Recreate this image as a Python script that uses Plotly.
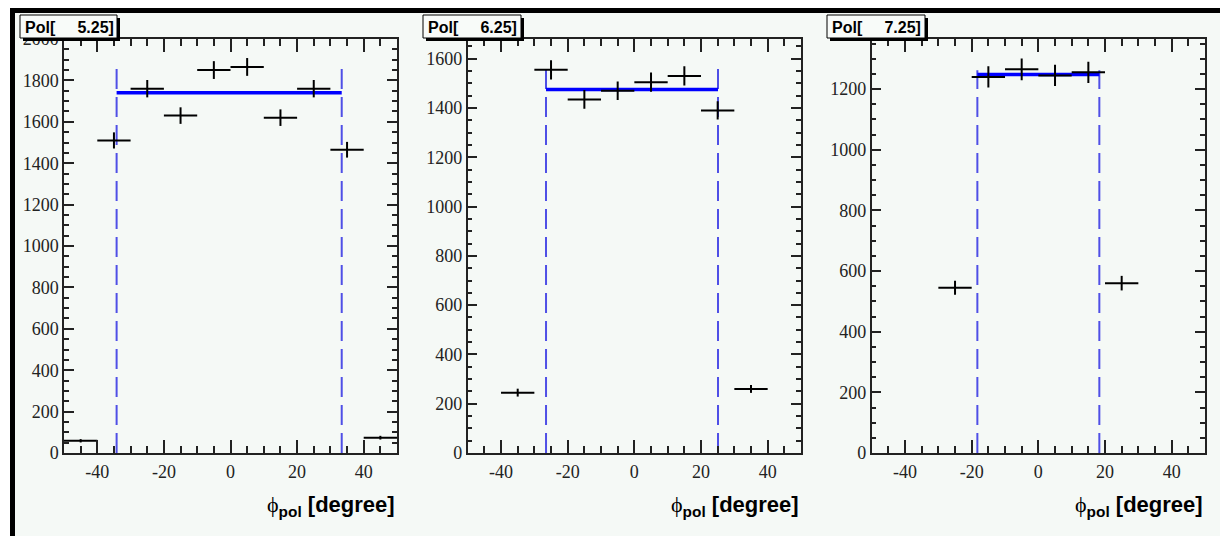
import plotly.graph_objects as go

W, H = 1220, 536
BG = "#f5f9f6"

# ---- histogram contents per polarisation slice (10 degree bins) ----
pol_labels = ["5.25", "6.25", "7.25"]

p1_x = [-45, -35, -25, -15, -5, 5, 15, 25, 35, 45]
p1_y = [59, 1510, 1760, 1630, 1850, 1865, 1620, 1760, 1465, 74]
p1_err = [8, 39, 42, 40, 43, 43, 40, 42, 38, 9]

p2_x = [-35, -25, -15, -5, 5, 15, 25, 35]
p2_y = [245, 1555, 1435, 1470, 1505, 1530, 1390, 260]
p2_err = [16, 39, 38, 38, 39, 39, 37, 16]

p3_x = [-25, -15, -5, 5, 15, 25]
p3_y = [545, 1240, 1265, 1245, 1255, 560]
p3_err = [23, 35, 36, 35, 35, 24]

bin_half_width = 5

# constant fit level and fit window edges
fit_level = [1740, 1475, 1248]
fit_lo = [-34.2, -26.5, -18.3]
fit_hi = [33.4, 25.1, 18.3]
window_top = [1866, 1561, 1262]

y_max = [2000, 1680, 1365]

# axis tick labels
x_tickvals = [-40, -20, 0, 20, 40]
x_ticktext = ["-40", "-20", "0", "20", "40"]
y_tickvals = [list(range(0, 2001, 200)), list(range(0, 1601, 200)),
              list(range(0, 1201, 200))]

# ---- layout in pixels ----
x_px = [(64, 397), (467.7, 801), (871.7, 1205)]
y_px = (39, 453)
box_px = [(20, 117), (423, 521), (827, 925)]


def px(x):
    return x / W


def py(y):
    return 1 - y / H


fig = go.Figure()

series = [(p1_x, p1_y, p1_err), (p2_x, p2_y, p2_err), (p3_x, p3_y, p3_err)]
for i, (xs, ys, es) in enumerate(series):
    xa = "x" if i == 0 else f"x{i+1}"
    ya = "y" if i == 0 else f"y{i+1}"
    # fit window boundaries
    for xv in (fit_lo[i], fit_hi[i]):
        fig.add_trace(go.Scatter(
            x=[xv, xv], y=[0, window_top[i]], mode="lines",
            line=dict(color="#4f4fe6", width=2, dash="20px,8px"),
            xaxis=xa, yaxis=ya, showlegend=False, hoverinfo="skip"))
    # constant fit
    fig.add_trace(go.Scatter(
        x=[fit_lo[i], fit_hi[i]], y=[fit_level[i], fit_level[i]], mode="lines",
        line=dict(color="#0000ff", width=3.5),
        xaxis=xa, yaxis=ya, showlegend=False, hoverinfo="skip"))
    # histogram points with errors
    fig.add_trace(go.Scatter(
        x=xs, y=ys, mode="markers",
        marker=dict(size=1, color="black"),
        error_x=dict(type="constant", value=bin_half_width, thickness=2,
                     width=0, color="black"),
        error_y=dict(type="data", array=es, thickness=2, width=0,
                     color="black"),
        xaxis=xa, yaxis=ya, showlegend=False))

SERIF = "Liberation Serif, Times New Roman, serif"
tickfont = dict(family=SERIF, size=18, color="#222")
layout = dict(
    template="none",
    width=W, height=H,
    font=dict(family=SERIF, size=18, color="#222"),
    margin=dict(l=0, r=0, t=0, b=0, pad=0, autoexpand=False),
    paper_bgcolor=BG, plot_bgcolor=BG,
    showlegend=False,
)
for i in range(3):
    xs = "xaxis" if i == 0 else f"xaxis{i+1}"
    ys = "yaxis" if i == 0 else f"yaxis{i+1}"
    xa = "x" if i == 0 else f"x{i+1}"
    ya = "y" if i == 0 else f"y{i+1}"
    layout[xs] = dict(
        domain=[px(x_px[i][0]), px(x_px[i][1])], anchor=ya, automargin=False,
        range=[-50, 50], tickmode="array", tickvals=x_tickvals,
        ticktext=x_ticktext, ticklabelstandoff=2,
        ticks="inside", ticklen=13, tickwidth=1.5, tickcolor="#222",
        minor=dict(dtick=5, tick0=0, ticks="inside", ticklen=7,
                   tickwidth=1.5, tickcolor="#222"),
        showline=True, linecolor="#222", linewidth=1.5, mirror="ticks",
        showgrid=False, zeroline=False, tickfont=tickfont,
    )
    layout[ys] = dict(
        domain=[py(y_px[1]), py(y_px[0])], anchor=xa, automargin=False,
        range=[0, y_max[i]], tickmode="array", tickvals=y_tickvals[i],
        ticktext=[str(v) for v in y_tickvals[i]],
        ticks="inside", ticklen=10, tickwidth=1.5, tickcolor="#222",
        minor=dict(dtick=50, tick0=0, ticks="inside", ticklen=5,
                   tickwidth=1.5, tickcolor="#222"),
        showline=True, linecolor="#222", linewidth=1.5, mirror="ticks",
        showgrid=False, zeroline=False, tickfont=tickfont,
    )
fig.update_layout(**layout)

shapes = [
    # canvas frame
    dict(type="rect", xref="paper", yref="paper", x0=0, x1=1, y0=py(8), y1=1,
         fillcolor="white", line_width=0, layer="above"),
    dict(type="rect", xref="paper", yref="paper", x0=0, x1=px(10), y0=0, y1=1,
         fillcolor="white", line_width=0, layer="above"),
    dict(type="rect", xref="paper", yref="paper", x0=px(10), x1=1, y0=py(13),
         y1=py(8), fillcolor="black", line_width=0, layer="above"),
    dict(type="rect", xref="paper", yref="paper", x0=px(10), x1=px(15), y0=0,
         y1=py(8), fillcolor="black", line_width=0, layer="above"),
]
annotations = []
for i in range(3):
    bx0, bx1 = box_px[i]
    # shadow and box for the slice label
    shapes.append(dict(type="rect", xref="paper", yref="paper",
                       x0=px(bx0 + 3), x1=px(bx1 + 3), y0=py(41), y1=py(18),
                       fillcolor="black", line_width=0, layer="above"))
    shapes.append(dict(type="rect", xref="paper", yref="paper",
                       x0=px(bx0), x1=px(bx1), y0=py(38), y1=py(15),
                       fillcolor="#f8fbf9", line=dict(color="black", width=1),
                       layer="above"))
    annotations.append(dict(
        xref="paper", yref="paper", x=px(bx0 + 3), y=py(27),
        xanchor="left", yanchor="middle", showarrow=False,
        text="<b>Pol[\u00a0\u00a0\u00a0\u00a0\u00a0" + pol_labels[i] + "]</b>",
        font=dict(family="Liberation Sans", size=16, color="black")))
    annotations.append(dict(
        xref="paper", yref="paper", x=px(x_px[i][1]), y=py(506),
        xanchor="right", yanchor="middle", showarrow=False,
        text="<span style='font-family:Liberation Serif;font-weight:normal'>ϕ</span>"
             "<sub>pol</sub> [degree]",
        font=dict(family="Liberation Sans", size=22, color="black",
                  weight="bold")))
fig.update_layout(shapes=shapes, annotations=annotations)

fig.write_html("out.html")
